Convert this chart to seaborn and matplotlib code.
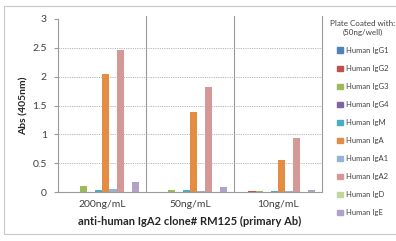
import matplotlib
matplotlib.use("Agg")
import matplotlib.pyplot as plt
import pandas as pd
import numpy as np
import seaborn as sns
from matplotlib.patches import Rectangle

sns.set_style("white")
plt.rcParams['font.family'] = ['Lato', 'DejaVu Sans']

concentrations = ["200ng/mL", "50ng/mL", "10ng/mL"]
antigens = ["Human IgG1", "Human IgG2", "Human IgG3", "Human IgG4", "Human IgM",
            "Human IgA", "Human IgA1", "Human IgA2", "Human IgD", "Human IgE"]
igg1 = [0.005, 0.005, 0.005]
igg2 = [0.005, 0.005, 0.01]
igg3 = [0.11, 0.04, 0.01]
igg4 = [0.005, 0.005, 0.005]
igm = [0.04, 0.03, 0.02]
iga = [2.05, 1.39, 0.55]
iga1 = [0.05, 0.01, 0.01]
iga2 = [2.47, 1.82, 0.93]
igd = [0.005, 0.005, 0.005]
ige = [0.18, 0.08, 0.03]
colors = ["#4F81BD", "#C0504D", "#9BBB59", "#8064A2", "#4BACC6",
          "#E38C42", "#95B3D7", "#D69896", "#C3D69B", "#B3A2C7"]

series = [igg1, igg2, igg3, igg4, igm, iga, iga1, iga2, igd, ige]
rows = []
for name, vals in zip(antigens, series):
    for c, v in zip(concentrations, vals):
        rows.append({"conc": c, "antigen": name, "abs": v})
df = pd.DataFrame(rows)

fig = plt.figure(figsize=(3.96, 2.41), dpi=100)
ax = fig.add_axes([58/396, 1-192/241, (322-58)/396, (192-19)/241])

sns.barplot(data=df, x="conc", y="abs", hue="antigen", hue_order=antigens,
            palette=colors, width=0.85, gap=0, saturation=1, ax=ax,
            legend=True, errorbar=None, linewidth=0)

ax.set_ylim(0, 3)
ax.set_xlim(-0.5, 2.5)
ax.set_yticks(np.arange(0, 3.01, 0.5))
ax.set_yticklabels(["0", "0.5", "1", "1.5", "2", "2.5", "3"])
for y in [0.5, 1.0, 1.5, 2.0, 2.5]:
    ax.axhline(y, color="#b0b0b0", lw=0.6, ls=(0, (1.5, 1.2)), zorder=0)
for x in [0.5, 1.5, 2.5]:
    ax.axvline(x, ymax=1.02, color="#9a9a9a", lw=0.8, zorder=0, clip_on=False)

for s in ["top", "right"]:
    ax.spines[s].set_visible(False)
ax.spines["left"].set_color("#9a9a9a")
ax.spines["bottom"].set_color("#9a9a9a")
ax.spines["left"].set_linewidth(0.8)
ax.spines["bottom"].set_linewidth(0.8)

ax.set_xticks([-0.5, 0.5, 1.5, 2.5], minor=True)
ax.tick_params(axis="x", which="minor", length=4, color="#9a9a9a", width=0.8)
ax.tick_params(axis="x", which="major", length=0, pad=6, labelsize=7.5, labelcolor="#404040")
ax.tick_params(axis="y", length=3, color="#9a9a9a", width=0.8, left=True, pad=5,
               labelsize=7.5, labelcolor="#404040")

ax.set_xlabel("anti-human IgA2 clone# RM125 (primary Ab)", fontsize=8, fontweight="bold",
              color="#262626", labelpad=5)
ax.set_ylabel("Abs (405nm)", fontsize=7.5, fontweight="bold", color="#262626", labelpad=3)

ax.get_legend().remove()
handles = [Rectangle((0, 0), 1, 1, color=c) for c in colors]
leg = fig.legend(handles, antigens, loc="upper left", bbox_to_anchor=(325/396, 1-15/241),
                 frameon=False, fontsize=5.5, labelcolor="#404040",
                 title="Plate Coated with:\n(50ng/well)", title_fontsize=5.8,
                 handlelength=0.7, handleheight=0.7, handletextpad=0.4, labelspacing=1.45,
                 borderpad=0.2, alignment="center")
leg.get_title().set_multialignment("center")
leg.get_title().set_color("#404040")

fig.add_artist(Rectangle((4/396, 1-234/241), 1.0, (234-6)/241, transform=fig.transFigure,
                         fill=False, edgecolor="#c8c8c8", lw=0.8))

fig.savefig("out.png", dpi=100)
